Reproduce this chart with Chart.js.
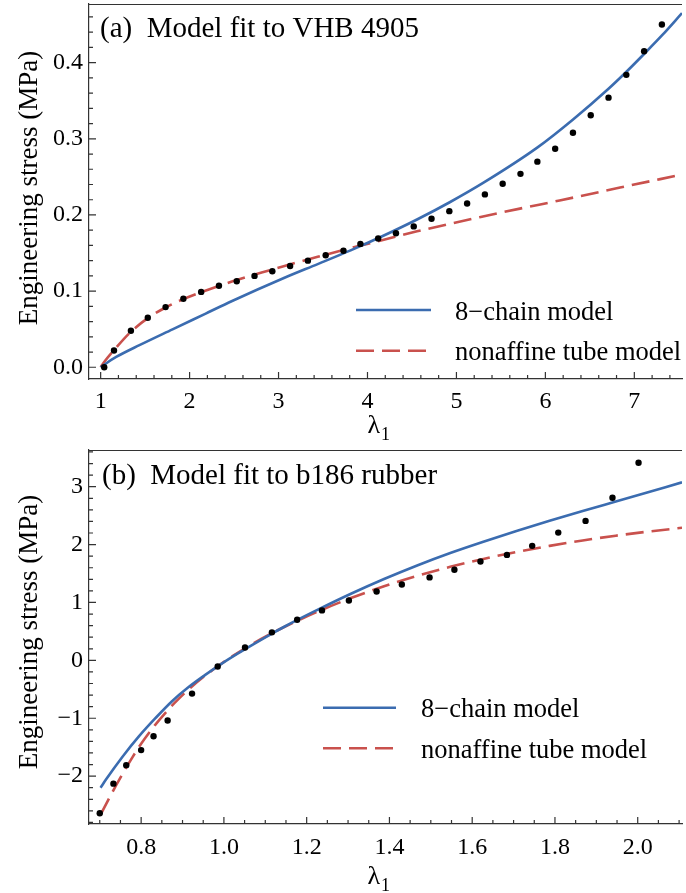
<!DOCTYPE html>
<html lang="en">
<head>
    <meta charset="UTF-8">
    <title>Model fits: VHB 4905 and b186 rubber</title>
    <script src="https://cdn.jsdelivr.net/npm/chart.js"></script>
    <style>
        body { margin: 0; background: #fff; }
        canvas { display: block; }
    </style>
</head>
<body>
    <canvas id="chartA" width="686" height="446"></canvas>
    <canvas id="chartB" width="686" height="447"></canvas>
    <script>
        // (a) VHB 4905 - measured points
        const vhbStretch = [1.04, 1.15, 1.34, 1.53, 1.73, 1.93, 2.13, 2.33, 2.53, 2.73, 2.93, 3.13, 3.33, 3.53, 3.73, 3.92, 4.12,
            4.32, 4.52, 4.72, 4.92, 5.12, 5.32, 5.52, 5.72, 5.91, 6.11, 6.31, 6.51, 6.71, 6.91, 7.11, 7.31];
        const vhbStress = [0.000, 0.022, 0.048, 0.065, 0.079, 0.090, 0.099, 0.107, 0.113, 0.120, 0.126, 0.133, 0.140, 0.147, 0.153, 0.162, 0.169,
            0.176, 0.185, 0.195, 0.205, 0.215, 0.227, 0.241, 0.254, 0.270, 0.287, 0.308, 0.331, 0.354, 0.384, 0.415, 0.450];
        // 8-chain model curve
        const vhbChainX = [1.00, 1.06, 1.175, 1.436, 1.808, 2.181, 2.478, 3.067, 3.44, 3.81, 4.184, 4.557, 4.93, 5.30, 5.916, 6.318, 6.713, 6.911, 7.115, 7.313, 7.536];
        const vhbChainY = [0.000, 0.005, 0.0135, 0.029, 0.0498, 0.0705, 0.087, 0.1175, 0.1355, 0.1535, 0.173, 0.194, 0.217, 0.242, 0.289, 0.326, 0.366, 0.388, 0.412, 0.436, 0.465];
        // nonaffine tube model curve
        const vhbTubeX = [1.00, 1.05, 1.15, 1.33, 1.53, 1.73, 1.93, 2.2, 2.5, 2.8, 3.067, 3.44, 3.81, 4.184, 4.557, 4.93, 5.26, 5.7, 6.16, 6.84, 7.536];
        const vhbTubeY = [0.000, 0.0085, 0.0225, 0.0455, 0.0645, 0.0785, 0.0895, 0.1015, 0.1135, 0.124, 0.133, 0.145, 0.1565, 0.1675, 0.1785, 0.1885, 0.197, 0.208, 0.219, 0.236, 0.253];

        // (b) b186 rubber - measured points
        const b186Stretch = [0.70, 0.733, 0.764, 0.80, 0.83, 0.864, 0.923, 0.985, 1.051, 1.116, 1.177, 1.237,
            1.302, 1.369, 1.430, 1.497, 1.557, 1.620, 1.684, 1.745, 1.808, 1.874, 1.939, 2.002];
        const b186Stress = [-2.64, -2.13, -1.81, -1.55, -1.31, -1.04, -0.574, -0.105, 0.222, 0.484, 0.702, 0.863,
            1.035, 1.19, 1.31, 1.433, 1.565, 1.708, 1.822, 1.978, 2.207, 2.409, 2.81, 3.414];
        const b186ChainX = [0.702, 0.715, 0.755, 0.795, 0.835, 0.874, 0.914, 0.954, 0.994, 1.034, 1.074, 1.114, 1.147,
            1.227, 1.307, 1.387, 1.467, 1.547, 1.627, 1.707, 1.787, 1.867, 1.947, 2.027, 2.107];
        const b186ChainY = [-2.20, -2.06, -1.665, -1.31, -0.995, -0.71, -0.465, -0.255, -0.06, 0.12, 0.29, 0.455, 0.585,
            0.875, 1.15, 1.405, 1.64, 1.855, 2.05, 2.235, 2.41, 2.58, 2.745, 2.91, 3.075];
        const b186TubeX = [0.702, 0.72, 0.74, 0.76, 0.78, 0.80, 0.834, 0.866, 0.89, 0.922, 0.954, 0.986, 1.05, 1.118,
            1.147, 1.227, 1.307, 1.387, 1.467, 1.547, 1.627, 1.707, 1.787, 1.867, 1.947, 2.027, 2.107];
        const b186TubeY = [-2.665, -2.418, -2.152, -1.90, -1.662, -1.44, -1.114, -0.848, -0.67, -0.456, -0.267, -0.097, 0.204, 0.476,
            0.58, 0.844, 1.076, 1.28, 1.46, 1.616, 1.752, 1.872, 1.978, 2.072, 2.154, 2.226, 2.29];

        // tick values and labels
        const topXTicks = [1, 2, 3, 4, 5, 6, 7];
        const topXLabels = ['1', '2', '3', '4', '5', '6', '7'];
        const topYTicks = [0, 0.1, 0.2, 0.3, 0.4];
        const topYLabels = ['0.0', '0.1', '0.2', '0.3', '0.4'];
        const botXTicks = [0.8, 1.0, 1.2, 1.4, 1.6, 1.8, 2.0];
        const botXLabels = ['0.8', '1.0', '1.2', '1.4', '1.6', '1.8', '2.0'];
        const botYTicks = [-2, -1, 0, 1, 2, 3];
        const botYLabels = ['\u22122', '\u22121', '0', '1', '2', '3'];

        const seriesNames = ['8\u2212chain model', 'nonaffine tube model'];
        const yTitle = 'Engineering stress (MPa)';

        const SERIF = "'Liberation Serif', 'Times New Roman', serif";
        const BLUE = '#3b6cb0';
        const RED = '#c9514d';
        const FRAME = '#333';
        Chart.defaults.font.family = SERIF;

        function pairs(xs, ys) {
            return xs.map((x, i) => ({ x: x, y: ys[i] }));
        }

        function minorTicks(from, to, step, major) {
            const out = [];
            const n = Math.round((to - from) / step);
            for (let i = 0; i <= n; i++) {
                const v = from + i * step;
                const r = v / major;
                if (Math.abs(r - Math.round(r)) > 1e-6) out.push(v);
            }
            return out;
        }

        // frame top line, inward ticks, legend, titles
        const framePlugin = {
            id: 'frame',
            afterDraw(chart, args, o) {
                const { ctx, chartArea: a, scales: { x, y } } = chart;
                ctx.save();
                ctx.strokeStyle = FRAME;
                ctx.lineWidth = 1.2;
                ctx.beginPath();
                ctx.moveTo(a.left, a.top + 0.5);
                ctx.lineTo(a.right, a.top + 0.5);
                x.ticks.forEach(t => {
                    const px = x.getPixelForValue(t.value);
                    ctx.moveTo(px, a.bottom);
                    ctx.lineTo(px, a.bottom - 7);
                });
                o.xMinor.forEach(v => {
                    const px = x.getPixelForValue(v);
                    ctx.moveTo(px, a.bottom);
                    ctx.lineTo(px, a.bottom - 4);
                });
                y.ticks.forEach(t => {
                    const py = y.getPixelForValue(t.value);
                    ctx.moveTo(a.left, py);
                    ctx.lineTo(a.left + 7, py);
                });
                o.yMinor.forEach(v => {
                    const py = y.getPixelForValue(v);
                    ctx.moveTo(a.left, py);
                    ctx.lineTo(a.left + 4, py);
                });
                ctx.stroke();

                // legend
                ctx.lineWidth = 2.6;
                ctx.strokeStyle = BLUE;
                ctx.beginPath();
                ctx.moveTo(o.legX0, o.legY[0]);
                ctx.lineTo(o.legX1, o.legY[0]);
                ctx.stroke();
                ctx.strokeStyle = RED;
                ctx.setLineDash([18, 8]);
                ctx.beginPath();
                ctx.moveTo(o.legX0, o.legY[1]);
                ctx.lineTo(o.legX1, o.legY[1]);
                ctx.stroke();
                ctx.setLineDash([]);

                ctx.fillStyle = '#000';
                ctx.textAlign = 'left';
                ctx.textBaseline = 'alphabetic';
                ctx.font = '26.5px ' + SERIF;
                ctx.fillText(seriesNames[0], o.legText, o.legY[0] + 9.5);
                ctx.fillText(seriesNames[1], o.legText, o.legY[1] + 9.5);

                // panel title
                ctx.font = '29px ' + SERIF;
                ctx.fillText(o.title, o.titleX, o.titleY);

                // x title: lambda with subscript 1
                ctx.font = '26px ' + SERIF;
                ctx.fillText('\u03bb', o.xTitleX, o.xTitleY);
                const w = ctx.measureText('\u03bb').width;
                ctx.font = '18px ' + SERIF;
                ctx.fillText('1', o.xTitleX + w + 1, o.xTitleY + 7);

                // y title
                ctx.font = '27px ' + SERIF;
                ctx.translate(o.yTitleX, o.yTitleY);
                ctx.rotate(-Math.PI / 2);
                ctx.textAlign = 'center';
                ctx.fillText(yTitle, 0, 0);
                ctx.restore();
            }
        };

        function makeChart(id, cfg) {
            const tickFont = { size: 24, family: SERIF };
            new Chart(document.getElementById(id), {
                type: 'scatter',
                data: {
                    datasets: [
                        {
                            label: 'data',
                            data: pairs(cfg.dotX, cfg.dotY),
                            showLine: false,
                            pointRadius: 3.2,
                            pointBorderWidth: 0,
                            pointBackgroundColor: '#000',
                            borderColor: '#000'
                        },
                        {
                            label: seriesNames[0],
                            data: pairs(cfg.chainX, cfg.chainY),
                            showLine: true,
                            pointRadius: 0,
                            borderColor: BLUE,
                            borderWidth: 2.6,
                            cubicInterpolationMode: 'monotone'
                        },
                        {
                            label: seriesNames[1],
                            data: pairs(cfg.tubeX, cfg.tubeY),
                            showLine: true,
                            pointRadius: 0,
                            borderColor: RED,
                            borderWidth: 2.6,
                            borderDash: [18, 8],
                            cubicInterpolationMode: 'monotone'
                        }
                    ]
                },
                options: {
                    responsive: false,
                    animation: false,
                    events: [],
                    layout: { padding: { top: 4, left: 0, right: 0, bottom: 0 } },
                    scales: {
                        x: {
                            type: 'linear',
                            min: cfg.xMin,
                            max: cfg.xMax,
                            afterBuildTicks: s => { s.ticks = cfg.xTicks.map(v => ({ value: v })); },
                            afterFit: s => {
                                s.height = cfg.xAxisHeight;
                                s.paddingLeft = 0;
                                s.paddingRight = 0;
                            },
                            grid: { display: false, drawTicks: false },
                            border: { display: true, color: FRAME, width: 1.2 },
                            ticks: {
                                autoSkip: false, maxRotation: 0, padding: cfg.xPad,
                                font: tickFont, color: '#000',
                                callback: (v, i) => cfg.xLabels[i]
                            }
                        },
                        y: {
                            type: 'linear',
                            min: cfg.yMin,
                            max: cfg.yMax,
                            afterBuildTicks: s => { s.ticks = cfg.yTicks.map(v => ({ value: v })); },
                            afterFit: s => {
                                s.width = 89;
                                s.paddingTop = 0;
                                s.paddingBottom = 0;
                            },
                            grid: { display: false, drawTicks: false },
                            border: { display: true, color: FRAME, width: 1.2 },
                            ticks: {
                                autoSkip: false, padding: 6,
                                font: tickFont, color: '#000',
                                callback: (v, i) => cfg.yLabels[i]
                            }
                        }
                    },
                    plugins: {
                        legend: { display: false },
                        tooltip: { enabled: false },
                        frame: cfg.frame
                    }
                },
                plugins: [framePlugin]
            });
        }

        makeChart('chartA', {
            dotX: vhbStretch, dotY: vhbStress,
            chainX: vhbChainX, chainY: vhbChainY,
            tubeX: vhbTubeX, tubeY: vhbTubeY,
            xMin: 0.869, xMax: 7.536, yMin: -0.0154, yMax: 0.477,
            xTicks: topXTicks, xLabels: topXLabels,
            yTicks: topYTicks, yLabels: topYLabels,
            xAxisHeight: 67, xPad: 8,
            frame: {
                xMinor: minorTicks(1.2, 7.4, 0.2, 1),
                yMinor: minorTicks(0.02, 0.46, 0.02, 0.1),
                legX0: 356, legX1: 431, legY: [310, 350.7], legText: 455,
                title: '(a)  Model fit to VHB 4905', titleX: 100, titleY: 36.7,
                xTitleX: 367.5, xTitleY: 433,
                yTitleX: 37, yTitleY: 188
            }
        });

        makeChart('chartB', {
            dotX: b186Stretch, dotY: b186Stress,
            chainX: b186ChainX, chainY: b186ChainY,
            tubeX: b186TubeX, tubeY: b186TubeY,
            xMin: 0.674, xMax: 2.107, yMin: -2.827, yMax: 3.634,
            xTicks: botXTicks, xLabels: botXLabels,
            yTicks: botYTicks, yLabels: botYLabels,
            xAxisHeight: 69, xPad: 9,
            frame: {
                xMinor: minorTicks(0.70, 2.10, 0.05, 0.2),
                yMinor: minorTicks(-2.8, 3.6, 0.2, 1),
                legX0: 323, legX1: 396, legY: [261.7, 302.3], legText: 421,
                title: '(b)  Model fit to b186 rubber', titleX: 102, titleY: 38.3,
                xTitleX: 367.5, xTitleY: 438,
                yTitleX: 37, yTitleY: 186
            }
        });
    </script>
</body>
</html>
